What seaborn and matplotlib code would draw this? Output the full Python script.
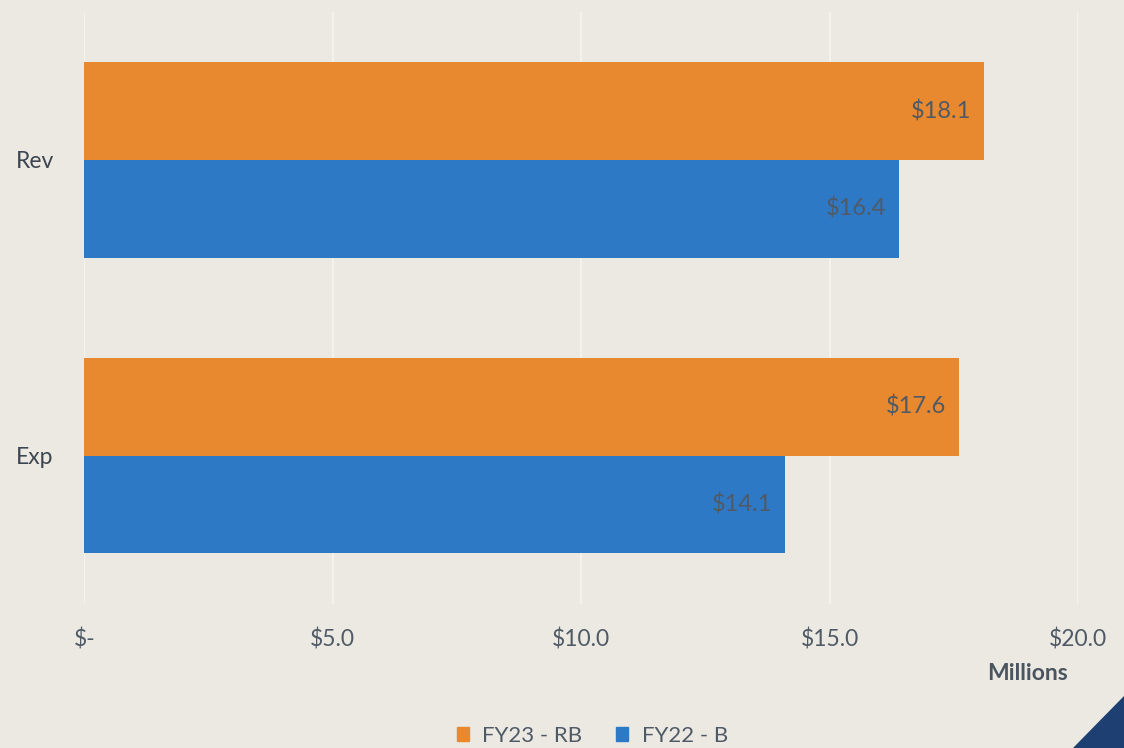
import matplotlib
matplotlib.use("Agg")
import matplotlib.pyplot as plt
import seaborn as sns
import pandas as pd
from matplotlib.patches import Polygon

categories = ["Rev", "Exp"]
series = ["FY23 - RB", "FY22 - B"]
fy23_rb = [18.1, 17.6]
fy22_b = [16.4, 14.1]
tick_values = [0, 5, 10, 15, 20]
tick_labels = ["$-", "$5.0", "$10.0", "$15.0", "$20.0"]

df = pd.DataFrame({
    "category": categories * 2,
    "series": [series[0]] * 2 + [series[1]] * 2,
    "value": fy23_rb + fy22_b,
})

sns.set_theme(style="white")
plt.rcParams["font.family"] = ["Lato", "DejaVu Sans"]

bg = "#ebe9e2"
txt = "#505a66"
colors = {"FY23 - RB": "#e8892f", "FY22 - B": "#2e79c6"}

fig = plt.figure(figsize=(11.24, 7.48), dpi=100, facecolor=bg)
ax = fig.add_axes([0.075, 0.193, 0.884, 0.791])
ax.set_facecolor(bg)

sns.barplot(data=df, y="category", x="value", hue="series", order=categories,
            hue_order=series, palette=colors, orient="h", width=0.66,
            saturation=1, ax=ax, legend=False, edgecolor="none")

for cont in ax.containers:
    texts = ax.bar_label(cont, labels=[f"${v:.1f}" for v in cont.datavalues],
                         padding=-9, label_type="edge", fontsize=17, color=txt)
    for t in texts:
        t.set_ha("right")

ax.set_xlim(0, 20)
ax.set_ylim(1.5, -0.5)
ax.set_xticks(tick_values)
ax.set_xticklabels(tick_labels, fontsize=16.5, color=txt)
ax.tick_params(axis="x", pad=18, length=0)
ax.tick_params(axis="y", length=0, pad=22, labelsize=16.5, labelcolor="#3c4550")
ax.grid(axis="x", color="#f4f3ef", linewidth=1.3)
ax.set_axisbelow(True)
for s in ax.spines.values():
    s.set_visible(False)
ax.set_xlabel("")
ax.set_ylabel("")

fig.text(0.878, 0.100, "Millions", fontsize=16.5, fontweight="bold", color="#4a5560",
         ha="left", va="center")

handles = [plt.Rectangle((0, 0), 1, 1, color=colors[s]) for s in series]
fig.legend(handles, series, loc="center", bbox_to_anchor=(0.527, 0.016), ncol=2,
           frameon=False, fontsize=16, labelcolor=txt, handlelength=0.55,
           handleheight=0.55, columnspacing=1.5, handletextpad=0.6)

tri = Polygon([[1.0, 0.07], [1.0, 0.0], [0.955, 0.0]], closed=True,
              transform=fig.transFigure, color="#1d3f72")
fig.patches.append(tri)

fig.savefig("out.png", dpi=100, facecolor=bg)
